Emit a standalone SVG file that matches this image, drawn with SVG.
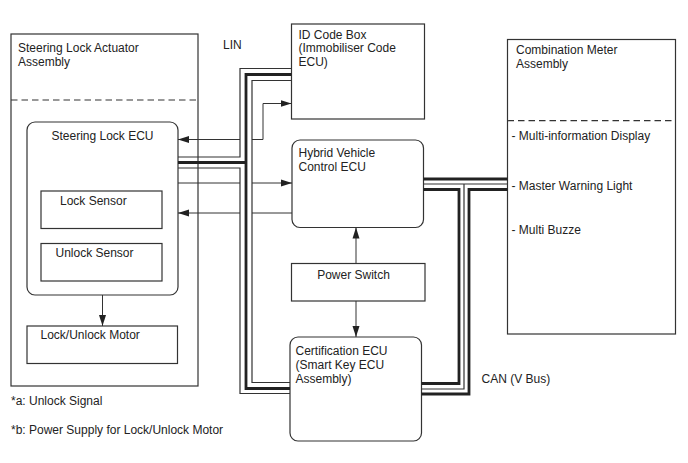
<svg xmlns="http://www.w3.org/2000/svg" width="688" height="463" viewBox="0 0 688 463">
<style>
.box{fill:#fff;stroke:#333;stroke-width:1.2}
.dash{fill:none;stroke:#333;stroke-width:1.2;stroke-dasharray:6.5,4}
.t{font-family:"Liberation Sans",Arial,sans-serif;font-size:12px;fill:#222}
.sig{fill:none;stroke:#333;stroke-width:1}
.thin{fill:none;stroke:#333;stroke-width:1.2}
.thick{fill:none;stroke:#222;stroke-width:2.8}
</style>
<defs>
<marker id="ah" markerUnits="userSpaceOnUse" markerWidth="12" markerHeight="8" refX="11" refY="4" orient="auto-start-reverse" viewBox="0 0 12 8">
<path d="M0,0.5 L11,4 L0,7.5 z" fill="#222"/>
</marker>
</defs>
<rect width="688" height="463" fill="#fff"/>

<g id="steering-lock-actuator">
<rect class="box" x="11" y="34" width="187" height="352"/>
<line class="dash" x1="11" y1="100" x2="198" y2="100"/>
<text class="t" x="18" y="52">Steering Lock Actuator</text>
<text class="t" x="18" y="66">Assembly</text>
</g>

<g id="steering-lock-ecu">
<rect class="box" x="27" y="122" width="151" height="173" rx="8"/>
<text class="t" x="102.5" y="140" text-anchor="middle">Steering Lock ECU</text>
</g>

<g id="lock-sensor">
<rect class="box" x="41" y="191" width="121" height="37.5"/>
<text class="t" x="60" y="205">Lock Sensor</text>
</g>

<g id="unlock-sensor">
<rect class="box" x="41" y="243.5" width="121" height="37.5"/>
<text class="t" x="55.5" y="257">Unlock Sensor</text>
</g>

<g id="lock-unlock-motor">
<rect class="box" x="27" y="326" width="150.5" height="37.5"/>
<text class="t" x="40.5" y="338.5">Lock/Unlock Motor</text>
</g>

<g id="id-code-box">
<rect class="box" x="291.5" y="24" width="133" height="95"/>
<text class="t" x="298.5" y="38.5">ID Code Box</text>
<text class="t" x="298.5" y="52">(Immobiliser Code</text>
<text class="t" x="298.5" y="66">ECU)</text>
</g>

<g id="hybrid-vehicle-control-ecu">
<rect class="box" x="292" y="140" width="131.5" height="87.5" rx="8"/>
<text class="t" x="298.5" y="157">Hybrid Vehicle</text>
<text class="t" x="298.5" y="171">Control ECU</text>
</g>

<g id="power-switch">
<rect class="box" x="291.5" y="263.5" width="133.5" height="37.5"/>
<text class="t" x="353.5" y="278.5" text-anchor="middle">Power Switch</text>
</g>

<g id="certification-ecu">
<rect class="box" x="290" y="337" width="131.5" height="104" rx="8"/>
<text class="t" x="295.5" y="354.5">Certification ECU</text>
<text class="t" x="295.5" y="368.5">(Smart Key ECU</text>
<text class="t" x="295.5" y="382.5">Assembly)</text>
</g>

<g id="combination-meter">
<rect class="box" x="507.5" y="39.5" width="168" height="294.5"/>
<line class="dash" x1="507.5" y1="120.7" x2="675.5" y2="120.7"/>
<text class="t" x="516" y="53.5">Combination Meter</text>
<text class="t" x="516" y="67.5">Assembly</text>
<text class="t" x="511.5" y="140">- Multi-information Display</text>
<text class="t" x="511.5" y="189.5">- Master Warning Light</text>
<text class="t" x="511.5" y="233.5">- Multi Buzze</text>
</g>

<g id="connectors">
<polyline class="sig" points="178,139.5 263,139.5 263,103.5 291.5,103.5" marker-start="url(#ah)" marker-end="url(#ah)"/>
<line class="sig" x1="178" y1="183" x2="292" y2="183" marker-end="url(#ah)"/>
<line class="sig" x1="292" y1="213" x2="178" y2="213" marker-end="url(#ah)"/>
<line class="sig" x1="356" y1="263.5" x2="356" y2="227.5" marker-end="url(#ah)"/>
<line class="sig" x1="356" y1="301" x2="356" y2="337" marker-end="url(#ah)"/>
<line class="sig" x1="102.5" y1="295" x2="102.5" y2="326" marker-end="url(#ah)"/>

<rect x="240" y="80" width="12" height="302" fill="#fff"/>
<polyline class="thin" points="291.5,68.5 240,68.5 240,157 178,157"/>
<polyline class="thick" points="291.5,74.5 246,74.5 246,388.5 290,388.5"/>
<line class="thick" x1="178" y1="162.5" x2="246" y2="162.5"/>
<polyline class="thin" points="178,168 240,168 240,393.5 290,393.5"/>
<polyline class="thin" points="291.5,80.5 252,80.5 252,382.5 290,382.5"/>

<line class="thick" x1="423.5" y1="179" x2="507.5" y2="179"/>
<line class="thin" x1="423.5" y1="184" x2="507.5" y2="184"/>
<polyline class="thick" points="423.5,189.5 459,189.5 459,383.5 421.5,383.5"/>
<polyline class="thin" points="464,184 464,389 421.5,389"/>
<polyline class="thick" points="507.5,189.5 469,189.5 469,394 421.5,394"/>
</g>

<text class="t" x="223" y="48.5">LIN</text>
<text class="t" x="481.5" y="383">CAN (V Bus)</text>
<text class="t" x="11" y="405">*a: Unlock Signal</text>
<text class="t" x="11" y="433.5">*b: Power Supply for Lock/Unlock Motor</text>
</svg>
